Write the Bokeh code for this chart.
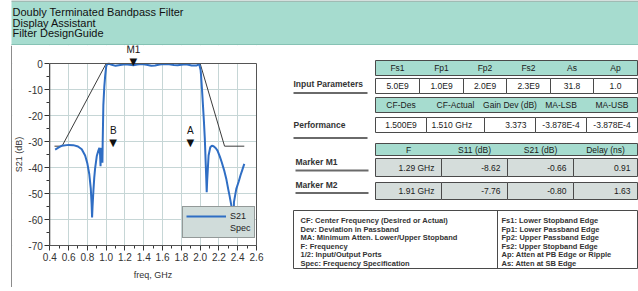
from bokeh.plotting import figure
from bokeh.layouts import column, row
from bokeh.models import (Range1d, FixedTicker, Legend, LegendItem, LabelSet, ColumnDataSource,
                          BoxAnnotation, NumeralTickFormatter)
from bokeh.core.properties import value
from bokeh.embed import file_html
from bokeh.resources import INLINE

FONT = "Liberation Sans"
TEAL = "#a6dccf"
GRAYCELL = "#d5dddb"
BORDER = "#4a4a4a"

# ---------------- data ----------------
title_lines = ["Doubly Terminated Bandpass Filter", "Display Assistant", "Filter DesignGuide"]

freq = [0.457, 0.50, 0.53, 0.60, 0.65, 0.70, 0.74, 0.776, 0.80, 0.82, 0.836, 0.845, 0.850,
        0.855, 0.864, 0.873, 0.882, 0.90, 0.917, 0.928, 0.935, 0.940, 0.944, 0.950, 0.955,
        0.960, 0.963, 0.967, 0.970, 0.980, 0.990, 1.000, 1.010,
        1.03, 1.06, 1.10, 1.15, 1.20, 1.25, 1.29, 1.33, 1.38, 1.43, 1.48, 1.52, 1.57, 1.62,
        1.67, 1.72, 1.76, 1.80, 1.85, 1.91, 1.96, 1.99,
        2.005, 2.01, 2.02, 2.03, 2.04, 2.05, 2.06, 2.065, 2.07, 2.075, 2.08, 2.09, 2.108,
        2.125, 2.143, 2.165, 2.185, 2.21, 2.23, 2.255, 2.278, 2.30, 2.313, 2.33, 2.338,
        2.35, 2.355, 2.36, 2.385, 2.41, 2.43, 2.45, 2.47]
s21_db = [-33.1, -32.2, -31.6, -31.3, -31.4, -31.9, -33.0, -35.4, -38.5, -42.5, -48.0, -54.0, -59.2,
          -55.0, -49.0, -44.0, -40.4, -35.6, -33.5, -32.4, -35.0, -39.5, -33.5, -32.5, -34.0,
          -38.2, -30.0, -22.0, -16.0, -9.0, -4.5, -1.2, -0.2,
          -0.1, -0.5, -0.9, -0.6, -0.3, -0.5, -0.66, -0.4, -0.2, -0.5, -0.9, -0.8, -0.4, -0.2,
          -0.3, -0.6, -0.7, -0.5, -0.3, -0.80, -0.8, -0.2,
          -2.5, -4.6, -10.0, -16.0, -22.0, -29.0, -39.0, -44.0, -49.5, -45.0, -41.8, -35.4, -32.2,
          -31.6, -31.8, -32.5, -33.5, -35.8, -38.0, -41.0, -44.3, -48.5, -50.8, -54.2, -55.9,
          -60.0, -63.0, -53.3, -48.2, -45.5, -43.0, -40.8, -38.6]

spec_freq = [0.45, 0.53, 1.0, 2.0, 2.26, 2.47]
spec_db = [-31.8, -31.8, 0.0, 0.0, -31.8, -31.8]

marker_names = ["M1", "B", "A"]
marker_freq = [1.29, 1.075, 1.895]
marker_db = [0.8, -30.5, -30.5]

x_lim = (0.4, 2.6)
y_lim = (-70, 0)
x_ticks = [0.4, 0.6, 0.8, 1.0, 1.2, 1.4, 1.6, 1.8, 2.0, 2.2, 2.4, 2.6]
x_minor = [0.5, 0.7, 0.9, 1.1, 1.3, 1.5, 1.7, 1.9, 2.1, 2.3, 2.5]
y_ticks = [0, -10, -20, -30, -40, -50, -60, -70]
y_minor = [-5, -15, -25, -35, -45, -55, -65]

input_headers = ["Fs1", "Fp1", "Fp2", "Fs2", "As", "Ap"]
input_values = ["5.0E9", "1.0E9", "2.0E9", "2.3E9", "31.8", "1.0"]
perf_headers = ["CF-Des", "CF-Actual", "Gain Dev (dB)", "MA-LSB", "MA-USB"]
perf_values = ["1.500E9", "1.510 GHz", "3.373", "-3.878E-4", "-3.878E-4"]
marker_headers = ["F", "S11 (dB)", "S21 (dB)", "Delay (ns)"]
m1_values = ["1.29 GHz", "-8.62", "-0.66", "0.91"]
m2_values = ["1.91 GHz", "-7.76", "-0.80", "1.63"]
row_labels = ["Input Parameters", "Performance", "Marker M1", "Marker M2"]
notes_left = ["CF: Center Frequency (Desired or Actual)",
              "Dev: Deviation in Passband",
              "MA: Minimum Atten. Lower/Upper Stopband",
              "F:  Frequency",
              "1/2:  Input/Output Ports",
              "Spec: Frequency Specification"]
notes_right = ["Fs1: Lower Stopband Edge",
               "Fp1: Lower Passband Edge",
               "Fp2: Upper Passband Edge",
               "Fs2: Upper Stopband Edge",
               "Ap:  Atten at PB Edge or Ripple",
               "As:  Atten at SB Edge"]


# ---------------- helpers ----------------
def canvas(w, h, x0, x1, y_top, y_bot):
    f = figure(width=w, height=h, x_range=Range1d(x0, x1), y_range=Range1d(y_bot, y_top),
               x_axis_location=None, y_axis_location=None, toolbar_location=None,
               output_backend="svg", min_border=0, outline_line_color=None)
    for g in f.grid:
        g.visible = False
    return f


def txt(f, xs, ys, texts, size="8.5px", align="left", style="normal", color="#1a1a1a"):
    f.text(x=xs, y=ys, text=texts, text_font=value(FONT), text_font_size=value(size),
           text_align=align, text_baseline="middle", text_font_style=style, text_color=color)


def mids(edges):
    return [(a + b) / 2 for a, b in zip(edges[:-1], edges[1:])]


# page geometry (pixels)
ROW_TOP, ROW_BOT = 45, 287          # rows occupied by chart + tables
CH_LEFT, CH_RIGHT = 12, 268         # columns occupied by the chart figure
BOX_TOP, BOX_BOT = 63, 245          # plot box rows (0 dB and -70 dB)
BOX_LEFT, BOX_RIGHT = 49.3, 256     # plot box columns (0.4 and 2.6 GHz)

# ---------------- header ----------------
hdr = canvas(638, ROW_TOP, 0, 638, 0, ROW_TOP)
hdr.quad(left=[11], right=[638], top=[0], bottom=[44.5], fill_color=TEAL, line_color=None)
hdr.segment(x0=[11], y0=[0.5], x1=[638], y1=[0.5], line_color="#9a9a9a", line_width=1)
hdr.segment(x0=[11], y0=[44], x1=[638], y1=[44], line_color="#86c2b4", line_width=1)
txt(hdr, [12, 12, 12], [11.5, 22, 32.5], title_lines, size="11px", color="#111111")

# ---------------- left frame line ----------------
lft = canvas(CH_LEFT, ROW_BOT - ROW_TOP, 0, CH_LEFT, ROW_TOP, ROW_BOT)
lft.quad(left=[10.5], right=[11.5], top=[ROW_TOP], bottom=[ROW_BOT], fill_color="#8c8c8c", line_color=None)

# ---------------- chart ----------------
# The frame covers the whole chart figure; ranges are widened so that the plot box
# (x_lim, y_lim) lands on BOX_* and the axes are pinned to the box edges.
db_per_px = (y_lim[1] - y_lim[0]) / (BOX_BOT - BOX_TOP)
ghz_per_px = (x_lim[1] - x_lim[0]) / (BOX_RIGHT - BOX_LEFT)
y_range = Range1d(y_lim[0] - (ROW_BOT - BOX_BOT) * db_per_px, y_lim[1] + (BOX_TOP - ROW_TOP) * db_per_px)
x_range = Range1d(x_lim[0] - (BOX_LEFT - CH_LEFT) * ghz_per_px, x_lim[1] + (CH_RIGHT - BOX_RIGHT) * ghz_per_px)

ch = figure(width=CH_RIGHT - CH_LEFT, height=ROW_BOT - ROW_TOP, x_range=x_range, y_range=y_range,
            min_border=0, toolbar_location=None, output_backend="svg", outline_line_color=None,
            x_axis_label="freq, GHz", y_axis_label="S21 (dB)")
ch.xaxis.fixed_location = y_lim[0]
ch.yaxis.fixed_location = x_lim[0]
ch.xaxis.bounds = x_lim
ch.yaxis.bounds = y_lim
ch.xaxis.ticker = FixedTicker(ticks=x_ticks, minor_ticks=x_minor)
ch.yaxis.ticker = FixedTicker(ticks=y_ticks, minor_ticks=y_minor)
ch.xaxis.formatter = NumeralTickFormatter(format="0.0")
ch.yaxis.formatter = NumeralTickFormatter(format="0")
for ax in (ch.xaxis, ch.yaxis):
    ax.major_tick_out = 5
    ax.major_tick_in = 0
    ax.minor_tick_out = 3
    ax.minor_tick_in = 0
    ax.axis_line_color = "#333333"
    ax.major_tick_line_color = "#333333"
    ax.minor_tick_line_color = "#333333"
    ax.major_label_text_font = FONT
    ax.major_label_text_font_size = "10px"
    ax.major_label_text_color = "#333333"
    ax.major_label_standoff = 2
    ax.axis_label_text_font = FONT
    ax.axis_label_text_font_size = "9px"
    ax.axis_label_text_font_style = "normal"
    ax.axis_label_text_color = "#333333"
ch.xaxis.axis_label_standoff = 6
ch.yaxis.axis_label_standoff = 1
ch.grid.grid_line_color = "#c6d6d6"
ch.grid.grid_line_width = 1

# blank the grid outside the plot box (drawn right after the grid, under the data)
for kw in (dict(bottom=y_lim[1]), dict(top=y_lim[0]), dict(right=x_lim[0]), dict(left=x_lim[1])):
    ch.add_layout(BoxAnnotation(fill_color="white", fill_alpha=1.0, line_color=None, level="underlay", **kw))

spec_r = ch.line(spec_freq, spec_db, line_color="#3c3c3c", line_width=1)
s21_r = ch.line(freq, s21_db, line_color="#2f6ec4", line_width=2)
# legend-only glyphs
leg_cross = ch.scatter(x=[], y=[], marker="cross", size=8, line_color="#2f6ec4", line_width=1.5)
leg_dash = ch.line(x=[], y=[], line_color="#222222", line_width=1, line_dash="3 2")

# plot box
ch.add_layout(BoxAnnotation(left=x_lim[0], right=x_lim[1], bottom=y_lim[0], top=y_lim[1],
                            fill_alpha=0.0, line_color="#555555", line_width=1, line_alpha=1.0))

msrc = ColumnDataSource(dict(x=marker_freq, y=marker_db, name=marker_names,
                             tri=["\u25BC"] * len(marker_names)))
ch.add_layout(LabelSet(x="x", y="y", text="tri", source=msrc, text_align="center",
                       text_baseline="middle", text_font=value("DejaVu Sans"),
                       text_font_size=value("10px"), text_color="#111111"))
ch.add_layout(LabelSet(x="x", y="y", text="name", source=msrc, text_align="center",
                       text_baseline="middle", y_offset=12, text_font=value(FONT),
                       text_font_size=value("10px"), text_color="#111111"))

legend = Legend(items=[LegendItem(label="S21", renderers=[s21_r, leg_cross]),
                       LegendItem(label="Spec", renderers=[leg_dash])],
                location=(182 - CH_LEFT, ROW_BOT - 238), background_fill_color="#d0dcda",
                background_fill_alpha=1.0, border_line_color="#555555", border_line_width=1,
                label_text_font=FONT, label_text_font_size="9px", label_text_color="#222222",
                glyph_height=12, glyph_width=40, label_height=12, label_standoff=4,
                padding=3, spacing=0, margin=0)
ch.add_layout(legend)

# ---------------- tables ----------------
tbl = canvas(638 - CH_RIGHT, ROW_BOT - ROW_TOP, CH_RIGHT, 638, ROW_TOP, ROW_BOT)
R = 637


def band(y0, y1, fill):
    tbl.quad(left=[375], right=[R], top=[y0], bottom=[y1], fill_color=fill, line_color=BORDER, line_width=1)


def cells(edges, y0, y1, fill):
    n = len(edges) - 1
    tbl.quad(left=edges[:-1], right=edges[1:], top=[y0] * n, bottom=[y1] * n,
             fill_color=fill, line_color=BORDER, line_width=1)


# input parameters
e1 = [375, 419, 463, 506, 550, 593, R]
band(60, 75, TEAL)
txt(tbl, mids(e1), [67.5] * 6, input_headers, align="center")
cells(e1, 78, 93, "white")
txt(tbl, mids(e1), [85.5] * 6, input_values, align="center")

# performance
e2 = [375, 426, 484, 535, 586, R]
band(97, 112, TEAL)
txt(tbl, mids(e2), [104.5] * 5, perf_headers, align="center")
cells(e2, 117, 132, "white")
m2 = mids(e2)
txt(tbl, [m2[0], m2[3], m2[4]], [124.5] * 3, [perf_values[0], perf_values[3], perf_values[4]], align="center")
txt(tbl, [e2[1] + 5], [124.5], [perf_values[1]], align="left")
txt(tbl, [e2[3] - 9], [124.5], [perf_values[2]], align="right")

# markers
e3 = [375, 441, 507, 573, R]
band(143, 155, TEAL)
txt(tbl, mids(e3), [149] * 4, marker_headers, align="center")
cells(e3, 158, 176, GRAYCELL)
txt(tbl, [e - 7 for e in e3[1:]], [167] * 4, m1_values, align="right")
cells(e3, 182, 199, GRAYCELL)
txt(tbl, [e - 7 for e in e3[1:]], [190.5] * 4, m2_values, align="right")

# row labels with underlines
lab_x = [293, 293, 295, 295]
lab_y = [83, 124, 161, 184]
txt(tbl, lab_x, lab_y, row_labels, size="8.5px", style="bold", color="#333333")
tbl.segment(x0=lab_x, y0=[92.5, 137.5, 170, 192.5], x1=[367, 367, 368, 368], y1=[92.5, 137.5, 170, 192.5],
            line_color="#6a6a6a", line_width=2)

# notes box
tbl.quad(left=[293], right=[R], top=[210], bottom=[268], fill_color="white", line_color=BORDER, line_width=1)
tbl.segment(x0=[497], y0=[210], x1=[497], y1=[268], line_color=BORDER, line_width=1)
ny = [220, 228.5, 237, 245.5, 254, 262.5]
txt(tbl, [300] * 6, ny, notes_left, size="7.5px", style="bold", color="#333333")
txt(tbl, [501] * 6, ny, notes_right, size="7.5px", style="bold", color="#333333")

# ---------------- bottom frame line ----------------
bot = canvas(638, 291 - ROW_BOT, 0, 638, ROW_BOT, 291)
bot.quad(left=[11], right=[638], top=[ROW_BOT], bottom=[289], fill_color="#9a9a9a", line_color=None)

layout = column(hdr, row(lft, ch, tbl), bot)
open("out.html", "w").write(file_html(layout, INLINE))
